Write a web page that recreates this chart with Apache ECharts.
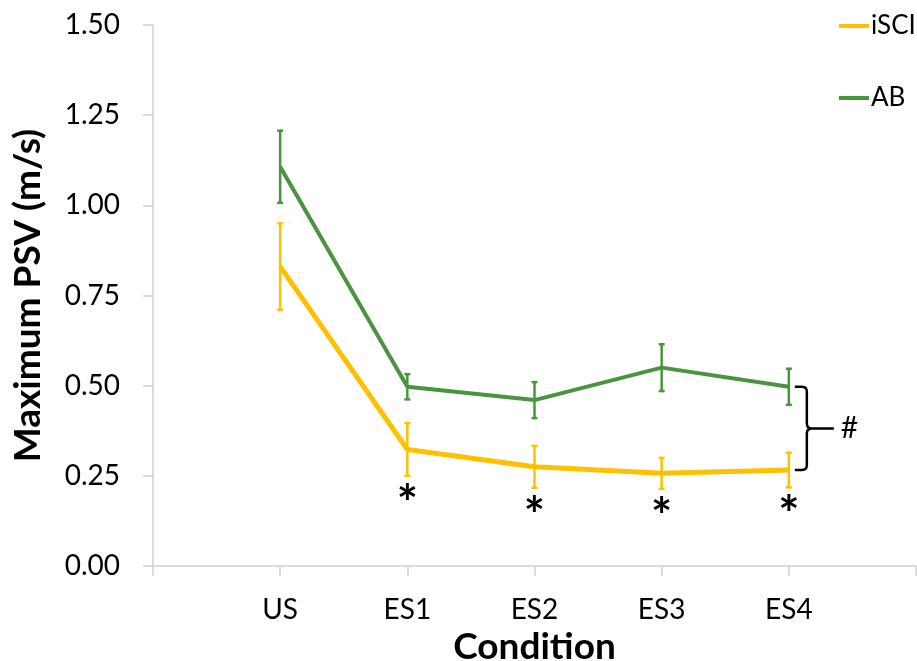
<!DOCTYPE html>
<html>
<head>
<meta charset="utf-8">
<script src="https://cdn.jsdelivr.net/npm/echarts@6/dist/echarts.min.js"></script>
<style>html,body{margin:0;padding:0;background:#fff;}#c{width:917px;height:661px;}</style>
</head>
<body>
<div id="c"></div>
<script>
const categories = ['US', 'ES1', 'ES2', 'ES3', 'ES4'];
const iSCI = [0.830, 0.323, 0.275, 0.257, 0.266];
const iSCIErr = [0.120, 0.073, 0.058, 0.043, 0.048];
const AB = [1.107, 0.497, 0.460, 0.550, 0.497];
const ABErr = [0.100, 0.035, 0.050, 0.065, 0.050];
const starFlags = [false, true, true, true, true];
const yTicks = [0, 0.25, 0.5, 0.75, 1.0, 1.25, 1.5];

const YEL = '#FFC000';
const GRN = '#4A9440';
const FONT = 'Lato';

const xs = categories.map((c, i) => i + 1);
const lineData = arr => arr.map((v, i) => [xs[i], v]);
const errData = (arr, err) => arr.map((v, i) => [xs[i], v - err[i], v + err[i]]);

function errRender(color) {
  return function (params, api) {
    const x = api.value(0);
    const lo = api.coord([x, api.value(1)]);
    const hi = api.coord([x, api.value(2)]);
    const cw = 3;
    const st = { stroke: color, lineWidth: 2.5 };
    return {
      type: 'group',
      children: [
        { type: 'line', shape: { x1: lo[0], y1: lo[1], x2: hi[0], y2: hi[1] }, style: st },
        { type: 'line', shape: { x1: lo[0] - cw, y1: lo[1], x2: lo[0] + cw, y2: lo[1] }, style: st },
        { type: 'line', shape: { x1: hi[0] - cw, y1: hi[1], x2: hi[0] + cw, y2: hi[1] }, style: st }
      ]
    };
  };
}

const starData = [];
iSCI.forEach((v, i) => { if (starFlags[i]) starData.push([xs[i], v - iSCIErr[i]]); });

const last = categories.length - 1;
const braceData = [[xs[last], AB[last], iSCI[last]]];

const chart = echarts.init(document.getElementById('c'), null, { renderer: 'canvas' });
chart.setOption({
  animation: false,
  backgroundColor: '#fff',
  textStyle: { fontFamily: FONT },
  grid: { left: 153, right: 1, top: 25, bottom: 95, containLabel: false, outerBoundsMode: 'none' },
  legend: {
    orient: 'vertical',
    left: 834,
    top: 8,
    itemWidth: 30,
    itemHeight: 4,
    itemGap: 46,
    icon: 'rect',
    textStyle: { fontFamily: FONT, fontSize: 26, color: '#000', padding: [0, 0, 0, -3] },
    data: ['iSCI', 'AB']
  },
  xAxis: {
    type: 'value',
    min: 0,
    max: categories.length + 1,
    interval: 1,
    splitLine: { show: false },
    axisLine: { show: true, lineStyle: { color: '#d0d0d0', width: 1.5 } },
    axisTick: { show: true, length: 10, lineStyle: { color: '#d0d0d0', width: 1.5 } },
    axisLabel: {
      margin: 30,
      fontFamily: FONT,
      fontSize: 28,
      color: '#000',
      formatter: v => (v >= 1 && v <= categories.length) ? categories[v - 1] : ''
    },
    name: 'Condition',
    nameLocation: 'middle',
    nameGap: 58,
    nameTextStyle: { fontFamily: FONT, fontSize: 37, fontWeight: 'bold', color: '#000' }
  },
  yAxis: {
    type: 'value',
    min: yTicks[0],
    max: yTicks[yTicks.length - 1],
    interval: 0.25,
    splitLine: { show: false },
    axisLine: { show: true, lineStyle: { color: '#d0d0d0', width: 1.5 } },
    axisTick: { show: true, length: 10, lineStyle: { color: '#d0d0d0', width: 1.5 } },
    axisLabel: {
      margin: 33,
      fontFamily: FONT,
      fontSize: 28,
      color: '#000',
      formatter: v => v.toFixed(2)
    },
    name: 'Maximum PSV (m/s)',
    nameLocation: 'middle',
    nameGap: 106,
    nameTextStyle: { fontFamily: FONT, fontSize: 37, fontWeight: 'bold', color: '#000' }
  },
  series: [
    {
      name: 'iSCI', type: 'line', data: lineData(iSCI), showSymbol: false, symbol: 'none',
      lineStyle: { color: YEL, width: 5 }, itemStyle: { color: YEL }, z: 3
    },
    {
      name: 'AB', type: 'line', data: lineData(AB), showSymbol: false, symbol: 'none',
      lineStyle: { color: GRN, width: 4 }, itemStyle: { color: GRN }, z: 3
    },
    {
      type: 'custom', data: errData(iSCI, iSCIErr), renderItem: errRender(YEL), z: 4,
      encode: { x: 0, y: [1, 2] }
    },
    {
      type: 'custom', data: errData(AB, ABErr), renderItem: errRender(GRN), z: 4,
      encode: { x: 0, y: [1, 2] }
    },
    {
      type: 'custom', data: starData, z: 5,
      encode: { x: 0, y: 1 },
      renderItem: function (params, api) {
        const p = api.coord([api.value(0), api.value(1)]);
        return {
          type: 'text',
          style: {
            text: '*', x: p[0], y: p[1] + 4,
            align: 'center', verticalAlign: 'top',
            font: 'bold 50px ' + FONT, fill: '#000'
          }
        };
      }
    },
    {
      type: 'custom', data: braceData, z: 5,
      encode: { x: 0, y: [1, 2] },
      renderItem: function (params, api) {
        const t = api.coord([api.value(0), api.value(1)]);
        const b = api.coord([api.value(0), api.value(2)]);
        const x0 = t[0] + 6, x1 = t[0] + 18, x2 = t[0] + 45;
        const ym = (t[1] + b[1]) / 2;
        const r = 5;
        const path = 'M' + x0 + ' ' + t[1] +
          ' L' + (x1 - r) + ' ' + t[1] +
          ' Q' + x1 + ' ' + t[1] + ' ' + x1 + ' ' + (t[1] + r) +
          ' L' + x1 + ' ' + (ym - r) +
          ' Q' + x1 + ' ' + ym + ' ' + (x1 + r) + ' ' + ym +
          ' L' + x2 + ' ' + ym +
          ' M' + (x1 + r) + ' ' + ym +
          ' Q' + x1 + ' ' + ym + ' ' + x1 + ' ' + (ym + r) +
          ' L' + x1 + ' ' + (b[1] - r) +
          ' Q' + x1 + ' ' + b[1] + ' ' + (x1 - r) + ' ' + b[1] +
          ' L' + x0 + ' ' + b[1];
        return {
          type: 'group',
          children: [
            { type: 'path', shape: { pathData: path }, style: { stroke: '#000', lineWidth: 2.5, fill: null } },
            { type: 'text', style: { text: '#', x: x2 + 7, y: ym, align: 'left', verticalAlign: 'middle', font: '30px ' + FONT, fill: '#000' } }
          ]
        };
      }
    }
  ]
});
</script>
</body>
</html>
